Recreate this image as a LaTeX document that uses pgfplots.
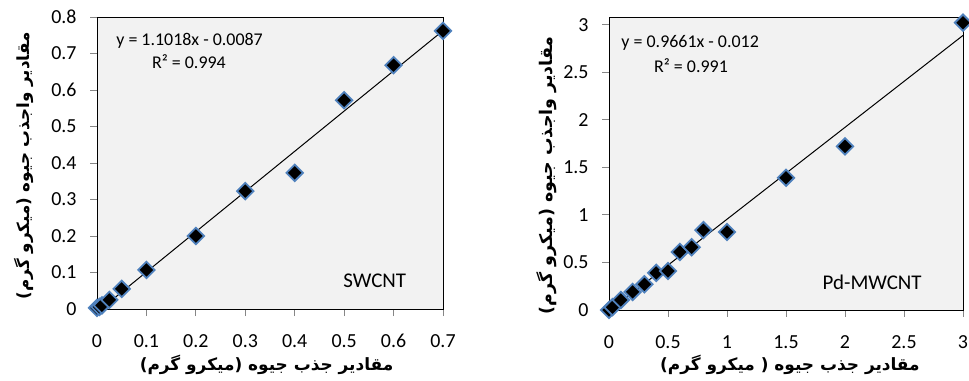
\documentclass[border=0pt]{standalone}
\usepackage{fontspec}
\setmainfont{Carlito}
\newfontfamily\arabicfont[Script=Arabic]{DejaVu Sans}
\TeXXeTstate=1
\usepackage{pgfplots}
\pgfplotsset{compat=1.18}
\definecolor{mk}{RGB}{79,129,189}
\definecolor{bg}{RGB}{242,242,242}
\definecolor{tk}{RGB}{134,134,134}
\pgfplotsset{
 common/.style={
  scale only axis,
  axis background/.style={fill=bg},
  axis line style={black, line width=0.9bp},
  tick align=outside, xtick pos=bottom, ytick pos=left,
  major tick length=7bp,
  tick style={tk, line width=0.9bp},
  every tick label/.append style={font=\fontsize{20}{20}\selectfont},
  xticklabel style={yshift=-15bp},
  yticklabel style={xshift=-10bp},
  /pgf/number format/assume math mode=true,
  /pgf/number format/fixed,
  clip=false,
 },
 pts/.style={only marks, mark=square*, mark size=5.8bp,
   mark options={rotate=45, draw=mk, fill=black, line width=1.8bp}},
 trend/.style={black, line width=1bp, no marks},
}
\begin{document}
\begin{tikzpicture}
\begin{axis}[common,
  at={(97bp,72bp)}, anchor=south west, width=346bp, height=292bp,
  xmin=0, xmax=0.7, ymin=0, ymax=0.8,
  xtick={0,0.1,0.2,0.3,0.4,0.5,0.6,0.7},
  ytick={0,0.1,0.2,0.3,0.4,0.5,0.6,0.7,0.8},
  xlabel={\arabicfont\bfseries\beginR مقادیر جذب جیوه (میکرو گرم)\endR},
  ylabel={\arabicfont\bfseries\beginR مقادیر  واجذب جیوه  (میکرو گرم)\endR},
  xlabel style={at={(axis description cs:0.49,-0.192)}, anchor=center, font=\fontsize{17}{17}\selectfont},
  ylabel style={at={(axis description cs:-0.21,0.49)}, anchor=center, rotate=0, font=\fontsize{16.8}{16.8}\selectfont},
]
\addplot[trend] coordinates {(0.008,0.0001) (0.7,0.76256)};
\addplot[pts] coordinates {
(0,0.003) (0.005,0.006) (0.01,0.01) (0.025,0.025) (0.05,0.055)
(0.1,0.107) (0.2,0.2) (0.3,0.323) (0.4,0.373) (0.5,0.572) (0.6,0.668) (0.7,0.762)};
\node[anchor=west, font=\fontsize{18}{18}\selectfont] at (axis cs:0.032,0.734) {y = 1.1018x - 0.0087};
\node[anchor=center, font=\fontsize{18}{18}\selectfont] at (axis cs:0.186,0.677) {R² = 0.994};
\node[anchor=center, font=\fontsize{21}{21}\selectfont] at (axis cs:0.562,0.0767) {SWCNT};
\end{axis}
\begin{axis}[common,
  at={(609bp,71bp)}, anchor=south west, width=354bp, height=293bp,
  xmin=0, xmax=3, ymin=0, ymax=3.08,
  xtick={0,0.5,1,1.5,2,2.5,3},
  ytick={0,0.5,1,1.5,2,2.5,3},
  xlabel={\arabicfont\bfseries\beginR مقادیر جذب جیوه ( میکرو گرم)\endR},
  ylabel={\arabicfont\bfseries\beginR مقادیر واجذب  جیوه (میکرو گرم)\endR},
  xlabel style={at={(axis description cs:0.511,-0.188)}, anchor=center, font=\fontsize{17}{17}\selectfont},
  ylabel style={at={(axis description cs:-0.175,0.46)}, anchor=center, rotate=0, font=\fontsize{17.5}{17.5}\selectfont},
]
\addplot[trend] coordinates {(0.0125,0.0001) (3,2.8863)};
\addplot[pts] coordinates {
(0,0) (0.03,0.03) (0.1,0.105) (0.2,0.19) (0.3,0.27) (0.4,0.39) (0.5,0.41)
(0.6,0.61) (0.7,0.66) (0.8,0.84) (1,0.82) (1.5,1.39) (2,1.72) (3,3.02)};
\node[anchor=west, font=\fontsize{18}{18}\selectfont] at (axis cs:0.076,2.81) {y = 0.9661x - 0.012};
\node[anchor=center, font=\fontsize{18}{18}\selectfont] at (axis cs:0.695,2.57) {R² = 0.991};
\node[anchor=center, font=\fontsize{21}{21}\selectfont] at (axis cs:2.23,0.295) {Pd-MWCNT};
\end{axis}
\pgfresetboundingbox
\useasboundingbox (0,0) rectangle (969bp,381bp);
\end{tikzpicture}
\end{document}
